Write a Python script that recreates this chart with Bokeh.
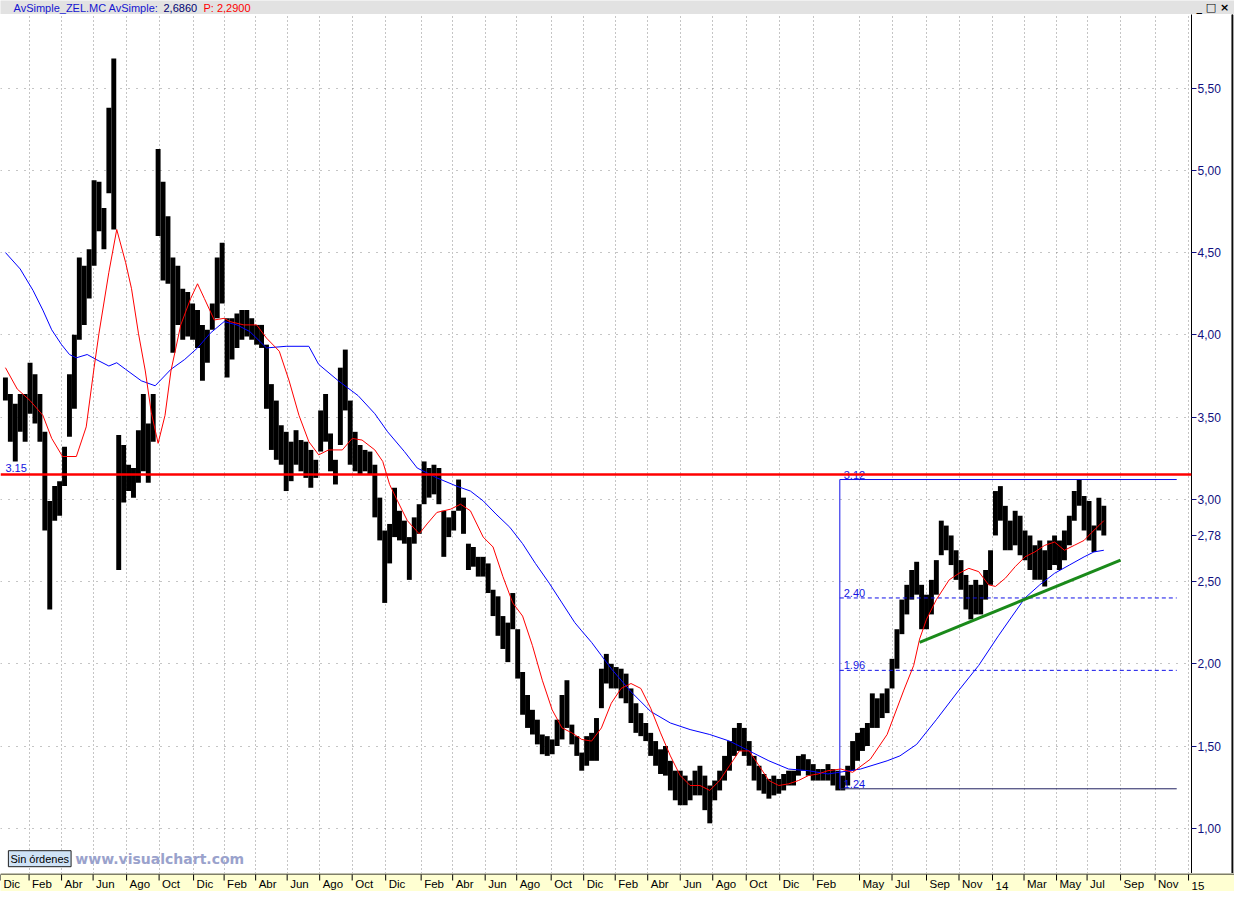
from bokeh.plotting import figure
from bokeh.models import (Range1d, LinearAxis, FixedTicker, Grid, Span, Label,
                          ColumnDataSource, CustomJSTickFormatter)
from bokeh.layouts import column, row
from bokeh.embed import file_html
from bokeh.resources import INLINE
from bokeh.core.properties import value

# ---------------- data ----------------
# one bar every ~6 trading days; x = bar index
bar_high = [
    3.74, 3.64, 3.58, 3.64, 3.64, 3.83, 3.76, 3.64, 3.41, 2.99,
    3.08, 3.11, 3.32, 3.76, 4.00, 4.47, 4.42, 4.52, 4.94, 4.93,
    4.77, 5.38, 5.68, 3.39, 3.33, 3.21, 3.19, 3.42, 3.64, 3.46,
    3.64, 5.13, 4.93, 4.72, 4.47, 4.42, 4.28, 4.26, 4.19, 4.15,
    4.06, 4.03, 4.19, 4.47, 4.56, 4.10, 4.10, 4.13, 4.15, 4.15,
    4.10, 4.06, 4.06, 3.94, 3.70, 3.60, 3.45, 3.41, 3.35, 3.42,
    3.36, 3.35, 3.30, 3.24, 3.54, 3.64, 3.40, 3.24, 3.80, 3.91,
    3.60, 3.41, 3.33, 3.30, 3.29, 3.21, 3.01, 2.81, 2.85, 3.07,
    2.93, 2.87, 2.77, 2.89, 2.97, 3.23, 3.19, 3.21, 3.19, 2.93,
    2.89, 2.93, 3.12, 3.01, 2.73, 2.71, 2.65, 2.65, 2.61, 2.45,
    2.41, 2.29, 2.25, 2.43, 2.21, 1.95, 1.81, 1.72, 1.66, 1.57,
    1.56, 1.54, 1.66, 1.81, 1.90, 1.63, 1.56, 1.46, 1.56, 1.58,
    1.67, 1.97, 2.06, 2.00, 1.98, 1.97, 1.94, 1.85, 1.76, 1.70,
    1.64, 1.58, 1.53, 1.48, 1.50, 1.41, 1.35, 1.35, 1.32, 1.29,
    1.35, 1.38, 1.32, 1.26, 1.29, 1.35, 1.44, 1.53, 1.61, 1.64,
    1.61, 1.53, 1.44, 1.38, 1.33, 1.30, 1.32, 1.30, 1.33, 1.35,
    1.35, 1.44, 1.45, 1.42, 1.39, 1.36, 1.36, 1.39, 1.36, 1.35,
    1.32, 1.38, 1.53, 1.58, 1.61, 1.64, 1.82, 1.79, 1.82, 1.85,
    2.03, 2.21, 2.39, 2.48, 2.57, 2.62, 2.48, 2.42, 2.51, 2.63,
    2.87, 2.84, 2.78, 2.69, 2.63, 2.54, 2.48, 2.51, 2.48, 2.57,
    2.69, 3.05, 3.08, 2.96, 2.87, 2.93, 2.90, 2.81, 2.78, 2.72,
    2.75, 2.69, 2.75, 2.78, 2.75, 2.81, 2.90, 3.05, 3.12, 3.02,
    2.99, 2.84, 3.01, 2.96,
]
bar_low = [
    3.60, 3.35, 3.23, 3.41, 3.35, 3.52, 3.46, 3.35, 2.81, 2.33,
    2.87, 2.90, 3.08, 3.38, 3.55, 3.97, 4.06, 4.22, 4.42, 4.63,
    4.52, 4.86, 4.64, 2.57, 2.98, 3.05, 3.01, 3.10, 3.17, 3.10,
    3.35, 4.60, 4.33, 4.31, 3.89, 4.06, 3.97, 3.99, 3.97, 3.92,
    3.72, 3.83, 4.03, 4.10, 4.19, 3.74, 3.85, 3.92, 3.97, 3.99,
    3.97, 3.94, 3.92, 3.55, 3.30, 3.24, 3.21, 3.05, 3.11, 3.21,
    3.17, 3.13, 3.07, 3.13, 3.29, 3.35, 3.17, 3.09, 3.33, 3.54,
    3.21, 3.17, 3.15, 3.17, 3.15, 2.89, 2.75, 2.37, 2.61, 2.77,
    2.75, 2.73, 2.51, 2.73, 2.79, 2.97, 3.01, 3.03, 2.97, 2.65,
    2.77, 2.81, 2.93, 2.79, 2.57, 2.59, 2.53, 2.53, 2.43, 2.29,
    2.17, 2.09, 2.01, 2.21, 1.91, 1.69, 1.61, 1.57, 1.51, 1.45,
    1.44, 1.45, 1.50, 1.54, 1.61, 1.51, 1.44, 1.35, 1.38, 1.41,
    1.41, 1.73, 1.88, 1.85, 1.85, 1.79, 1.76, 1.64, 1.58, 1.56,
    1.53, 1.44, 1.38, 1.33, 1.32, 1.23, 1.17, 1.14, 1.14, 1.17,
    1.20, 1.20, 1.11, 1.03, 1.17, 1.23, 1.29, 1.35, 1.44, 1.47,
    1.44, 1.38, 1.29, 1.23, 1.21, 1.18, 1.20, 1.21, 1.23, 1.26,
    1.26, 1.32, 1.35, 1.32, 1.29, 1.29, 1.29, 1.29, 1.26, 1.23,
    1.23, 1.26, 1.35, 1.41, 1.47, 1.50, 1.61, 1.61, 1.67, 1.70,
    1.85, 1.97, 2.18, 2.30, 2.39, 2.42, 2.21, 2.21, 2.30, 2.42,
    2.66, 2.69, 2.60, 2.51, 2.45, 2.33, 2.27, 2.30, 2.30, 2.39,
    2.48, 2.78, 2.87, 2.69, 2.69, 2.72, 2.66, 2.63, 2.57, 2.51,
    2.51, 2.47, 2.57, 2.60, 2.57, 2.63, 2.72, 2.87, 2.96, 2.81,
    2.75, 2.68, 2.81, 2.78,
]
bar_t = list(range(1, len(bar_high) + 1))

# short simple moving average (red): (bar index, value)
ma_short = [
    (1.0, 3.80), (3.4, 3.67), (6.0, 3.60), (8.6, 3.51), (10.4, 3.37), (12.6, 3.26),
    (15.4, 3.26), (17.4, 3.44), (19.0, 3.80), (20.0, 4.01), (22.0, 4.38), (23.6, 4.64),
    (25.4, 4.44), (26.6, 4.28), (28.0, 4.01), (29.4, 3.78), (30.6, 3.53), (32.0, 3.34),
    (33.4, 3.51), (34.6, 3.78), (36.6, 4.06), (38.6, 4.22), (40.0, 4.31), (41.4, 4.22),
    (43.4, 4.09), (45.4, 4.10), (46.6, 4.08), (49.4, 4.06), (52.0, 4.06), (54.0, 3.98),
    (56.6, 3.90), (58.6, 3.72), (60.6, 3.51), (62.6, 3.35), (64.6, 3.27), (66.6, 3.30),
    (69.4, 3.30), (71.4, 3.37), (73.4, 3.36), (76.0, 3.30), (77.6, 3.23), (79.0, 3.09),
    (80.6, 2.99), (82.6, 2.87), (85.0, 2.79), (86.6, 2.85), (88.6, 2.92), (91.4, 2.94),
    (93.4, 2.97), (95.4, 2.93), (98.0, 2.77), (100.0, 2.71), (102.0, 2.53), (104.0, 2.37),
    (106.0, 2.29), (108.0, 2.11), (110.0, 1.90), (112.0, 1.72), (114.0, 1.61), (116.0, 1.58),
    (118.0, 1.54), (120.0, 1.53), (122.0, 1.61), (124.0, 1.76), (126.0, 1.85),
    (128.0, 1.88), (130.0, 1.85), (132.0, 1.73), (134.0, 1.58), (136.0, 1.44), (138.0, 1.32),
    (140.0, 1.26), (142.0, 1.26), (144.0, 1.23), (146.0, 1.29), (148.0, 1.38), (150.0, 1.47),
    (152.0, 1.47), (154.0, 1.38), (156.0, 1.29), (158.0, 1.26), (160.0, 1.27), (162.0, 1.29),
    (164.0, 1.32), (166.0, 1.33), (168.0, 1.35), (170.6, 1.36), (173.0, 1.34), (176.6, 1.42),
    (180.0, 1.57), (183.4, 1.84), (185.4, 1.99), (186.6, 2.15), (188.0, 2.27), (190.0, 2.39),
    (192.6, 2.51), (194.6, 2.55), (196.6, 2.58), (198.6, 2.56), (200.6, 2.48), (202.0, 2.47),
    (204.0, 2.52), (206.0, 2.59), (208.0, 2.65), (210.0, 2.68), (212.0, 2.72), (214.0, 2.74),
    (216.0, 2.69), (218.0, 2.72), (220.0, 2.75), (221.6, 2.80), (223.0, 2.84), (224.0, 2.87),
]
# long simple moving average (blue)
ma_long = [
    (1.0, 4.50), (4.0, 4.40), (6.6, 4.27), (8.6, 4.15), (10.4, 4.03), (12.4, 3.94),
    (14.0, 3.88), (15.4, 3.86), (17.6, 3.88), (19.4, 3.85), (22.0, 3.81), (23.6, 3.83),
    (25.4, 3.79), (28.6, 3.72), (31.4, 3.69), (34.6, 3.79), (37.4, 3.85), (40.0, 3.92),
    (42.6, 4.01), (45.4, 4.08), (48.0, 4.06), (50.6, 4.02), (54.0, 3.92), (58.0, 3.93),
    (62.6, 3.93), (64.6, 3.82), (68.6, 3.72), (72.6, 3.63), (76.0, 3.52), (78.6, 3.41),
    (82.0, 3.29), (84.6, 3.19), (88.6, 3.13), (92.6, 3.08), (95.4, 3.05), (98.0, 2.99),
    (100.6, 2.91), (103.4, 2.83), (106.0, 2.73), (108.6, 2.61), (111.4, 2.49), (114.0, 2.37),
    (116.6, 2.25), (118.0, 2.20), (120.0, 2.13), (122.0, 2.05), (124.0, 1.97), (128.0, 1.83),
    (132.0, 1.71), (136.0, 1.64), (140.0, 1.60), (144.0, 1.57), (148.0, 1.53), (152.0, 1.47),
    (156.0, 1.41), (160.0, 1.36), (164.0, 1.35), (168.0, 1.33), (174.6, 1.36), (180.0, 1.41),
    (182.6, 1.44), (186.0, 1.51), (190.0, 1.66), (194.6, 1.84), (198.6, 1.99), (202.6, 2.17),
    (205.4, 2.29), (208.0, 2.40), (211.0, 2.48), (214.0, 2.55), (217.0, 2.60), (220.0, 2.65),
    (222.0, 2.68), (224.0, 2.69),
]

resistance = 3.15                      # red horizontal level
fib_start, fib_end = 170.4, 238.8      # bar index span of the retracement box
fib_levels = [3.12, 2.40, 1.96, 1.24]  # top, two retracements, bottom
trend_t = [186.6, 227.4]               # green support line
trend_v = [2.13, 2.63]
last_price = 2.78

y_ticks = [1.0, 1.5, 2.0, 2.5, 3.0, 3.5, 4.0, 4.5, 5.0, 5.5]
x_ticks = [0, 5.8, 12.4, 18.8, 25.6, 32.2, 39.2, 45.4, 51.8, 58.2, 64.8, 71.4, 78.2,
           85.4, 91.8, 98.4, 104.8, 111.8, 118.4, 124.8, 131.4, 138.0, 144.6, 151.4,
           158.2, 165.0, 174.4, 181.0, 188.0, 194.6, 201.4, 207.8, 214.4, 220.6,
           227.4, 234.4, 241.2]
x_labels = ["Dic", "Feb", "Abr", "Jun", "Ago", "Oct", "Dic", "Feb", "Abr", "Jun", "Ago",
            "Oct", "Dic", "Feb", "Abr", "Jun", "Ago", "Oct", "Dic", "Feb", "Abr", "Jun",
            "Ago", "Oct", "Dic", "Feb", "May", "Jul", "Sep", "Nov", "14", "Mar", "May",
            "Jul", "Sep", "Nov", "15"]

# ---------------- layout ----------------
W = 1234
EDGE_W = 3
MAIN_W = W - EDGE_W
AX_W = 40
HEAD_H = 14
MAIN_H = 859
BAND_H = 18
X_END = 241.8
Y_MIN, Y_MAX = 0.725, 5.947
FONT = "Liberation Sans"

main = figure(width=MAIN_W, height=MAIN_H, x_range=Range1d(0, X_END),
              y_range=Range1d(Y_MIN, Y_MAX), x_axis_type=None, y_axis_type=None,
              output_backend="svg", toolbar_location=None,
              min_border_left=0, min_border_right=AX_W, min_border_top=0,
              min_border_bottom=0)
main.outline_line_color = None
main.background_fill_color = "white"
main.border_fill_color = "white"

main.add_layout(Grid(dimension=0, ticker=FixedTicker(ticks=x_ticks),
                     grid_line_color="#8a8a8a", grid_line_dash="1 3"))
main.add_layout(Grid(dimension=1, ticker=FixedTicker(ticks=y_ticks),
                     grid_line_color="#8a8a8a", grid_line_dash="1 7"))

# price axis on the right; the last price is shown as an extra tick label
yax = LinearAxis(ticker=FixedTicker(ticks=y_ticks + [last_price]),
                 formatter=CustomJSTickFormatter(code="return tick.toFixed(2).replace('.', ',');"))
yax.axis_line_color = "black"
yax.major_tick_in = 0
yax.major_tick_out = 5
yax.major_tick_line_color = "#101080"
yax.minor_tick_in = 0
yax.minor_tick_out = 0
yax.major_label_standoff = 1
yax.major_label_text_color = "#101080"
yax.major_label_text_font = FONT
yax.major_label_text_font_size = "12px"
main.add_layout(yax, "right")

# price bars
src = ColumnDataSource(dict(t=bar_t, hi=bar_high, lo=bar_low))
main.vbar(x="t", bottom="lo", top="hi", width=1.0, source=src, fill_color="black",
          line_color=None)

# retracement box
main.line([fib_start, fib_end], [fib_levels[0]] * 2, line_color="#1010e8", line_width=1)
main.line([fib_start, fib_end], [fib_levels[-1]] * 2, line_color="#202060", line_width=1)
main.line([fib_start, fib_start], [fib_levels[-1], fib_levels[0]], line_color="#1010e8",
          line_width=1)
for lv in fib_levels[1:-1]:
    main.line([fib_start, fib_end], [lv, lv], line_color="#1010e8", line_width=1,
              line_dash="4 3")
for lv in fib_levels:
    main.add_layout(Label(x=fib_start + 0.8, y=lv, y_offset=1, text=f"{lv:.2f}",
                          text_color="#1515e0", text_font=FONT,
                          text_font_size="11px", text_baseline="bottom"))

# moving averages
main.line([p[0] for p in ma_long], [p[1] for p in ma_long], line_color="#0000ff",
          line_width=1)
main.line([p[0] for p in ma_short], [p[1] for p in ma_short], line_color="#ff0000",
          line_width=1)

# support trend line
main.line(trend_t, trend_v, line_color="#1a8a1a", line_width=3)

# resistance line
main.add_layout(Span(location=resistance, dimension="width", line_color="#ff0000",
                     line_width=2.5))
main.add_layout(Label(x=1, y=resistance, y_offset=3, text=f"{resistance:.2f}",
                      text_color="#1515e0", text_font=FONT, text_font_size="11px",
                      text_baseline="bottom"))

# footer badges
main.add_layout(Label(x=1.6, y=0.815, text="Sin órdenes", text_color="black",
                      text_font=FONT, text_font_size="11px", text_baseline="middle",
                      background_fill_color="#cfe2f5", border_line_color="#202020",
                      padding=2))
main.add_layout(Label(x=15.2, y=0.815, text="www.visualchart.com", text_color="#9aa2cc",
                      text_font="DejaVu Sans", text_font_size="14px",
                      text_font_style="bold", text_baseline="middle"))

# right edge line
edge = figure(width=EDGE_W, height=MAIN_H, x_range=Range1d(0, EDGE_W),
              y_range=Range1d(0, MAIN_H), x_axis_type=None, y_axis_type=None,
              output_backend="svg", toolbar_location=None, min_border=0)
edge.outline_line_color = None
edge.background_fill_color = "white"
edge.border_fill_color = "white"
edge.vbar(x=[0.75], bottom=[0], top=[MAIN_H], width=1.2, color="black")

# header
head = figure(width=W, height=HEAD_H, x_range=Range1d(0, W), y_range=Range1d(0, HEAD_H),
              x_axis_type=None, y_axis_type=None, output_backend="svg",
              toolbar_location=None, min_border=0)
head.outline_line_color = None
head.background_fill_color = "#e2e2e2"
head.border_fill_color = "#e2e2e2"
for x0, txt, col in [(13, "AvSimple_ZEL.MC", "#1515d0"), (108, "AvSimple:", "#1515d0"),
                     (163, "2,6860", "#000070"), (203, "P: 2,2900", "#ff0000")]:
    head.add_layout(Label(x=x0, y=7, text=txt, text_color=col, text_font=FONT,
                          text_font_size="11px", text_baseline="middle"))
head.add_layout(Label(x=1196, y=7, text="_ \u25a1 \u00d7", text_color="black",
                      text_font="DejaVu Sans", text_font_size="11px",
                      text_font_style="bold", text_baseline="middle"))

# month band
BAND_END = X_END * W / (MAIN_W - AX_W)
band = figure(width=W, height=BAND_H, x_range=Range1d(0, BAND_END),
              y_range=Range1d(0, BAND_H), x_axis_type=None, y_axis_type=None,
              output_backend="svg", toolbar_location=None, min_border=0)
band.outline_line_color = None
band.background_fill_color = "#ffffd2"
band.border_fill_color = "#ffffd2"
band.segment(x0=[0], y0=[BAND_H - 0.5], x1=[BAND_END], y1=[BAND_H - 0.5],
             line_color="black", line_width=1)
bsrc = ColumnDataSource(dict(x=x_ticks, lab=x_labels))
band.segment(x0="x", y0=BAND_H - 1, x1="x", y1=BAND_H - 7, source=bsrc, line_color="black",
             line_width=1)
band.text(x="x", y=2, text="lab", source=bsrc, x_offset=3, text_font=value(FONT),
          text_font_size="11.5px", text_color="black", text_baseline="bottom",
          text_align="left")

layout = column(head, row(main, edge), band)
open("out.html", "w").write(file_html(layout, INLINE))
